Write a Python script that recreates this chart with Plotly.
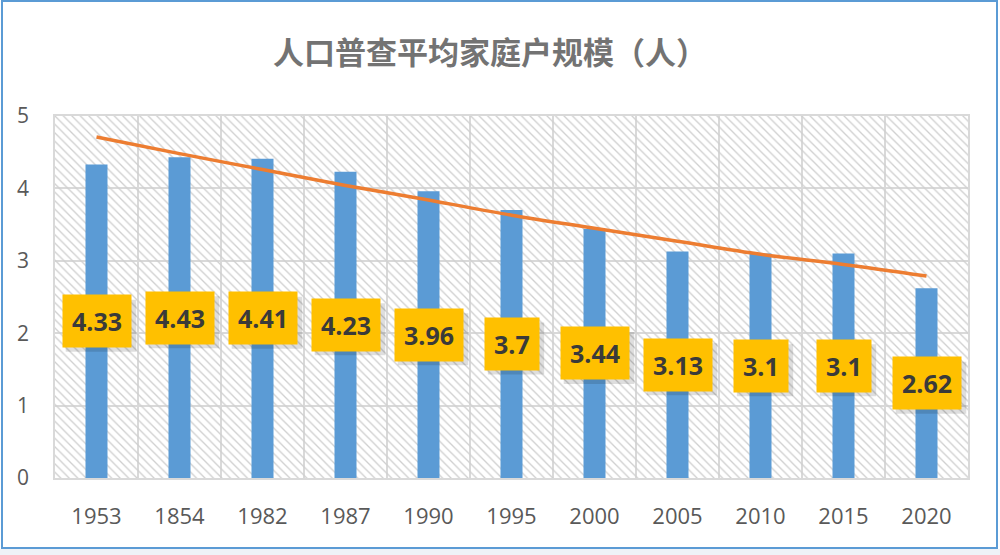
import plotly.graph_objects as go

# ---- data ----
categories = ["1953", "1854", "1982", "1987", "1990", "1995", "2000", "2005", "2010", "2015", "2020"]
household_size = [4.33, 4.43, 4.41, 4.23, 3.96, 3.7, 3.44, 3.13, 3.1, 3.1, 2.62]
trend_values = [4.71, 4.48, 4.26, 4.04, 3.84, 3.63, 3.45, 3.27, 3.09, 2.95, 2.79]
y_ticks = [0, 1, 2, 3, 4, 5]
title_text = "人口普查平均家庭户规模（人）"

W, H = 1000, 555
ML, MR, MT, MB = 55, 32, 116, 77
PW, PH = W - ML - MR, H - MT - MB


def px_x(p):
    return (p - ML) / PW


def px_y(p):
    return (H - MB - p) / PH


fig = go.Figure()

# hatched plot background (decoration: one full-width cell per category)
fig.add_trace(go.Bar(
    x=categories, y=[max(y_ticks)] * len(categories), width=1,
    marker=dict(color="#cfcfcf", line=dict(width=0),
                pattern=dict(shape="\\", size=6, solidity=0.22, fillmode="replace")),
    hoverinfo="skip", showlegend=False,
))

# data bars
fig.add_trace(go.Bar(
    x=categories, y=household_size, width=0.265,
    marker=dict(color="#5b9bd5", line=dict(width=0)),
    showlegend=False, name="平均家庭户规模",
))

# trend line
fig.add_trace(go.Scatter(
    x=categories, y=trend_values, mode="lines",
    line=dict(color="#ed7d31", width=3.5, shape="spline"),
    showlegend=False, hoverinfo="skip",
))

# value labels: soft shadow (pixel-sized shape) + yellow box
for i, v in enumerate(household_size):
    s = f"{v:g}"
    half_w = (14.3 * sum(ch.isdigit() for ch in s) + 6.7 * s.count(".") + 20) / 2
    half_h = 25.5
    fig.add_shape(type="rect", xref="x", yref="y", xsizemode="pixel", ysizemode="pixel",
                  xanchor=i, yanchor=v / 2,
                  x0=-half_w + 4, x1=half_w + 5, y0=-half_h - 5, y1=half_h - 4,
                  fillcolor="rgba(0,0,0,0.13)", line=dict(width=0), layer="above")
    fig.add_annotation(x=i, y=v / 2, xref="x", yref="y", text=f"<b>{s}</b>", showarrow=False,
                       font=dict(family="Open Sans", size=25, color="#3a3a3a"),
                       bgcolor="#ffc000", borderpad=9)

# outer border and bottom strip
fig.add_shape(type="rect", xref="paper", yref="paper",
              x0=px_x(0), x1=px_x(W), y0=px_y(H), y1=px_y(549),
              fillcolor="#eef2f7", line=dict(width=0), layer="below")
fig.add_shape(type="rect", xref="paper", yref="paper",
              x0=px_x(2), x1=px_x(997), y0=px_y(548), y1=px_y(1),
              line=dict(color="#5b9bd5", width=2), layer="above")

fig.update_layout(
    width=W, height=H,
    margin=dict(l=ML, r=MR, t=MT, b=MB),
    paper_bgcolor="white", plot_bgcolor="white",
    barmode="overlay",
    title=dict(text=f"<b>{title_text}</b>", x=0.49, xanchor="center",
               y=1 - 53 / H, yanchor="middle",
               font=dict(family="Noto Sans CJK SC", size=31, color="#737373")),
    font=dict(family="Open Sans"),
)
fig.update_xaxes(
    type="category", categoryorder="array", categoryarray=categories,
    tickson="boundaries", showgrid=True, gridcolor="#d9d9d9", gridwidth=1.5,
    ticks="", ticklabelstandoff=18, tickfont=dict(size=22, color="#595959"),
    showline=True, linecolor="#d9d9d9", linewidth=1.5, mirror=True,
    range=[-0.5, len(categories) - 0.5],
)
fig.update_yaxes(
    range=[0, 5], tickvals=y_ticks, showgrid=True, gridcolor="#d9d9d9", gridwidth=1.5,
    zeroline=False, ticks="", ticklabelstandoff=20, tickfont=dict(size=21, color="#595959"),
    showline=True, linecolor="#d9d9d9", linewidth=1.5, mirror=True,
)

fig.write_html("out.html", config={"displayModeBar": False},
               post_script="document.body.style.margin='0';")
